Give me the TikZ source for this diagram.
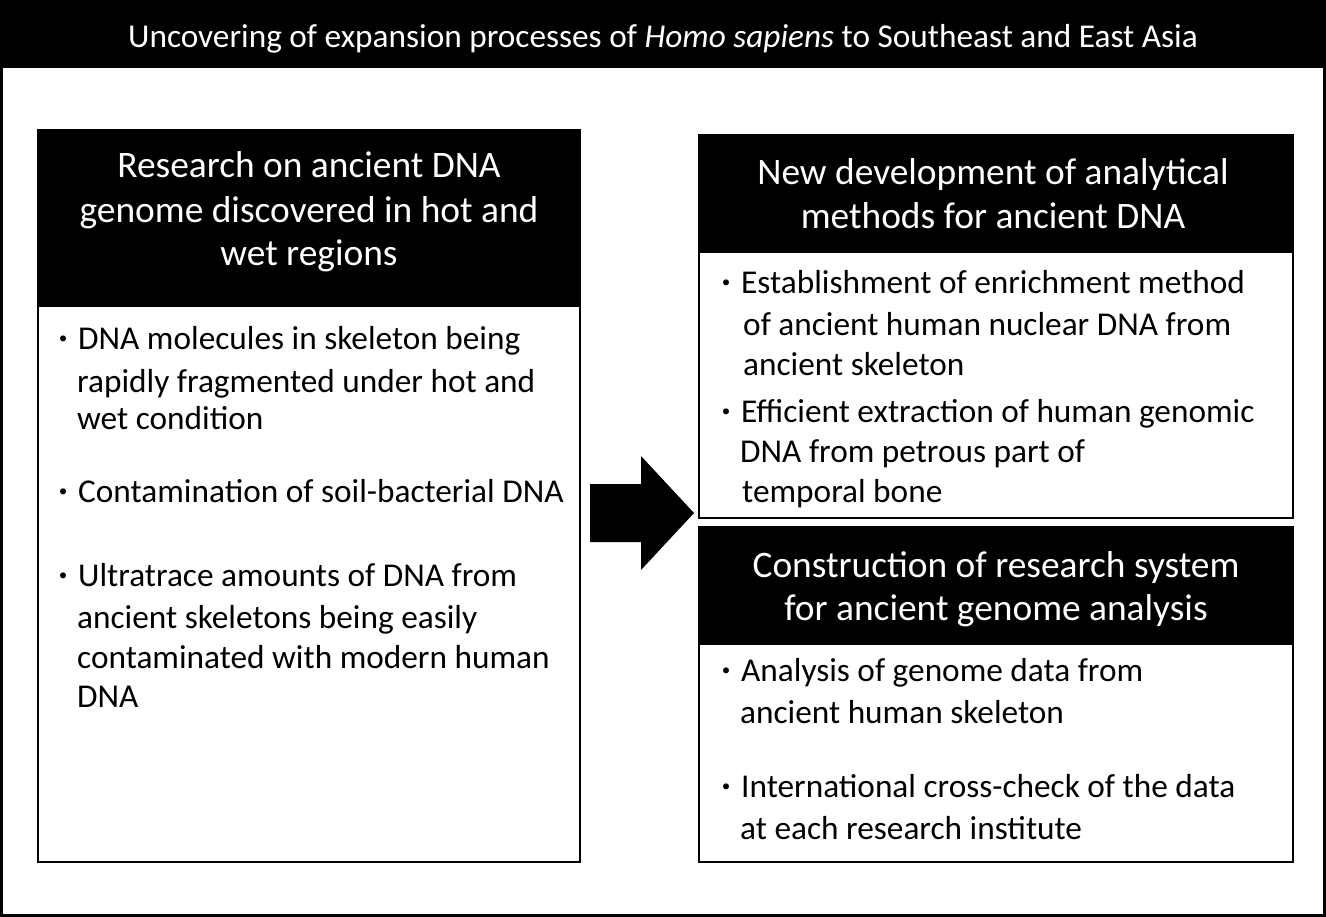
\documentclass[tikz,border=0pt]{standalone}
\usepackage{fontspec}
\setmainfont{Carlito}
\newfontfamily\cjk{Noto Sans CJK JP}
\tikzset{
  frame/.style={draw=black, line width=2.5pt},
  hdrtext/.style={text=white, anchor=base, inner sep=0pt, font=\fontsize{37.4}{44}\selectfont},
  titletext/.style={text=white, anchor=base, inner sep=0pt, font=\fontsize{33.3}{40}\selectfont},
  bodytext/.style={text=black, anchor=base west, inner sep=0pt, font=\fontsize{33.3}{40}\selectfont},
}
\newcommand{\bul}{\makebox[30pt][c]{\fontsize{28}{34}\selectfont\cjk ・}}
\begin{document}
\begin{tikzpicture}[x=1pt, y=-1pt]
\useasboundingbox (0,0) rectangle (1326,917);
% outer frame and title bar
\fill[white] (0,0) rectangle (1326,917);
\draw[line width=3pt] (1.5,1.5) rectangle (1324.5,915.5);
\fill[black] (0,0) rectangle (1326,68);
\node[titletext] (title) at (663,48) {Uncovering of expansion processes of \textit{Homo sapiens} to Southeast and East Asia};

% left box
\fill[black] (38,130) rectangle (580,307);
\draw[frame] (38,130) rectangle (580,862);
\node[hdrtext] (lh1) at (309,178) {Research on ancient DNA};
\node[hdrtext] (lh2) at (309,223) {genome discovered in hot and};
\node[hdrtext] (lh3) at (309,266) {wet regions};

\node[bodytext] (l1a) at (48,350) {\bul DNA molecules in skeleton being};
\node[bodytext] (l1b) at (77,392) {rapidly fragmented under hot and};
\node[bodytext] (l1c) at (77,429) {wet condition};
\node[bodytext] (l2a) at (48,502) {\bul Contamination of soil-bacterial DNA};
\node[bodytext] (l3a) at (48,586) {\bul Ultratrace amounts of DNA from};
\node[bodytext] (l3b) at (77,628) {ancient skeletons being easily};
\node[bodytext] (l3c) at (77,668) {contaminated with modern human};
\node[bodytext] (l3d) at (77,707) {DNA};

% arrow
\fill[black] (590,484) -- (641,484) -- (641,456) -- (694,513) -- (641,570) -- (641,542) -- (590,542) -- cycle;

% right top box
\fill[black] (699,135) rectangle (1293,253);
\draw[frame] (699,135) rectangle (1293,518);
\node[hdrtext] (rh1) at (993,185) {New development of analytical};
\node[hdrtext] (rh2) at (993,229) {methods for ancient DNA};

\node[bodytext] (r1a) at (711,294) {\bul Establishment of enrichment method};
\node[bodytext] (r1b) at (743,336) {of ancient human nuclear DNA from};
\node[bodytext] (r1c) at (743,376) {ancient skeleton};
\node[bodytext] (r2a) at (711,422) {\bul Efficient extraction of human genomic};
\node[bodytext] (r2b) at (740,462) {DNA from petrous part of};
\node[bodytext] (r2c) at (742,502) {temporal bone};

% right bottom box
\fill[black] (699,527) rectangle (1293,645);
\draw[frame] (699,527) rectangle (1293,862);
\node[hdrtext] (rb1) at (996,577) {Construction of research system};
\node[hdrtext] (rb2) at (996,620) {for ancient genome analysis};

\node[bodytext] (s1a) at (711,681) {\bul Analysis of genome data from};
\node[bodytext] (s1b) at (740,723) {ancient human skeleton};
\node[bodytext] (s2a) at (711,797) {\bul International cross-check of the data};
\node[bodytext] (s2b) at (740,839) {at each research institute};
\end{tikzpicture}
\end{document}
